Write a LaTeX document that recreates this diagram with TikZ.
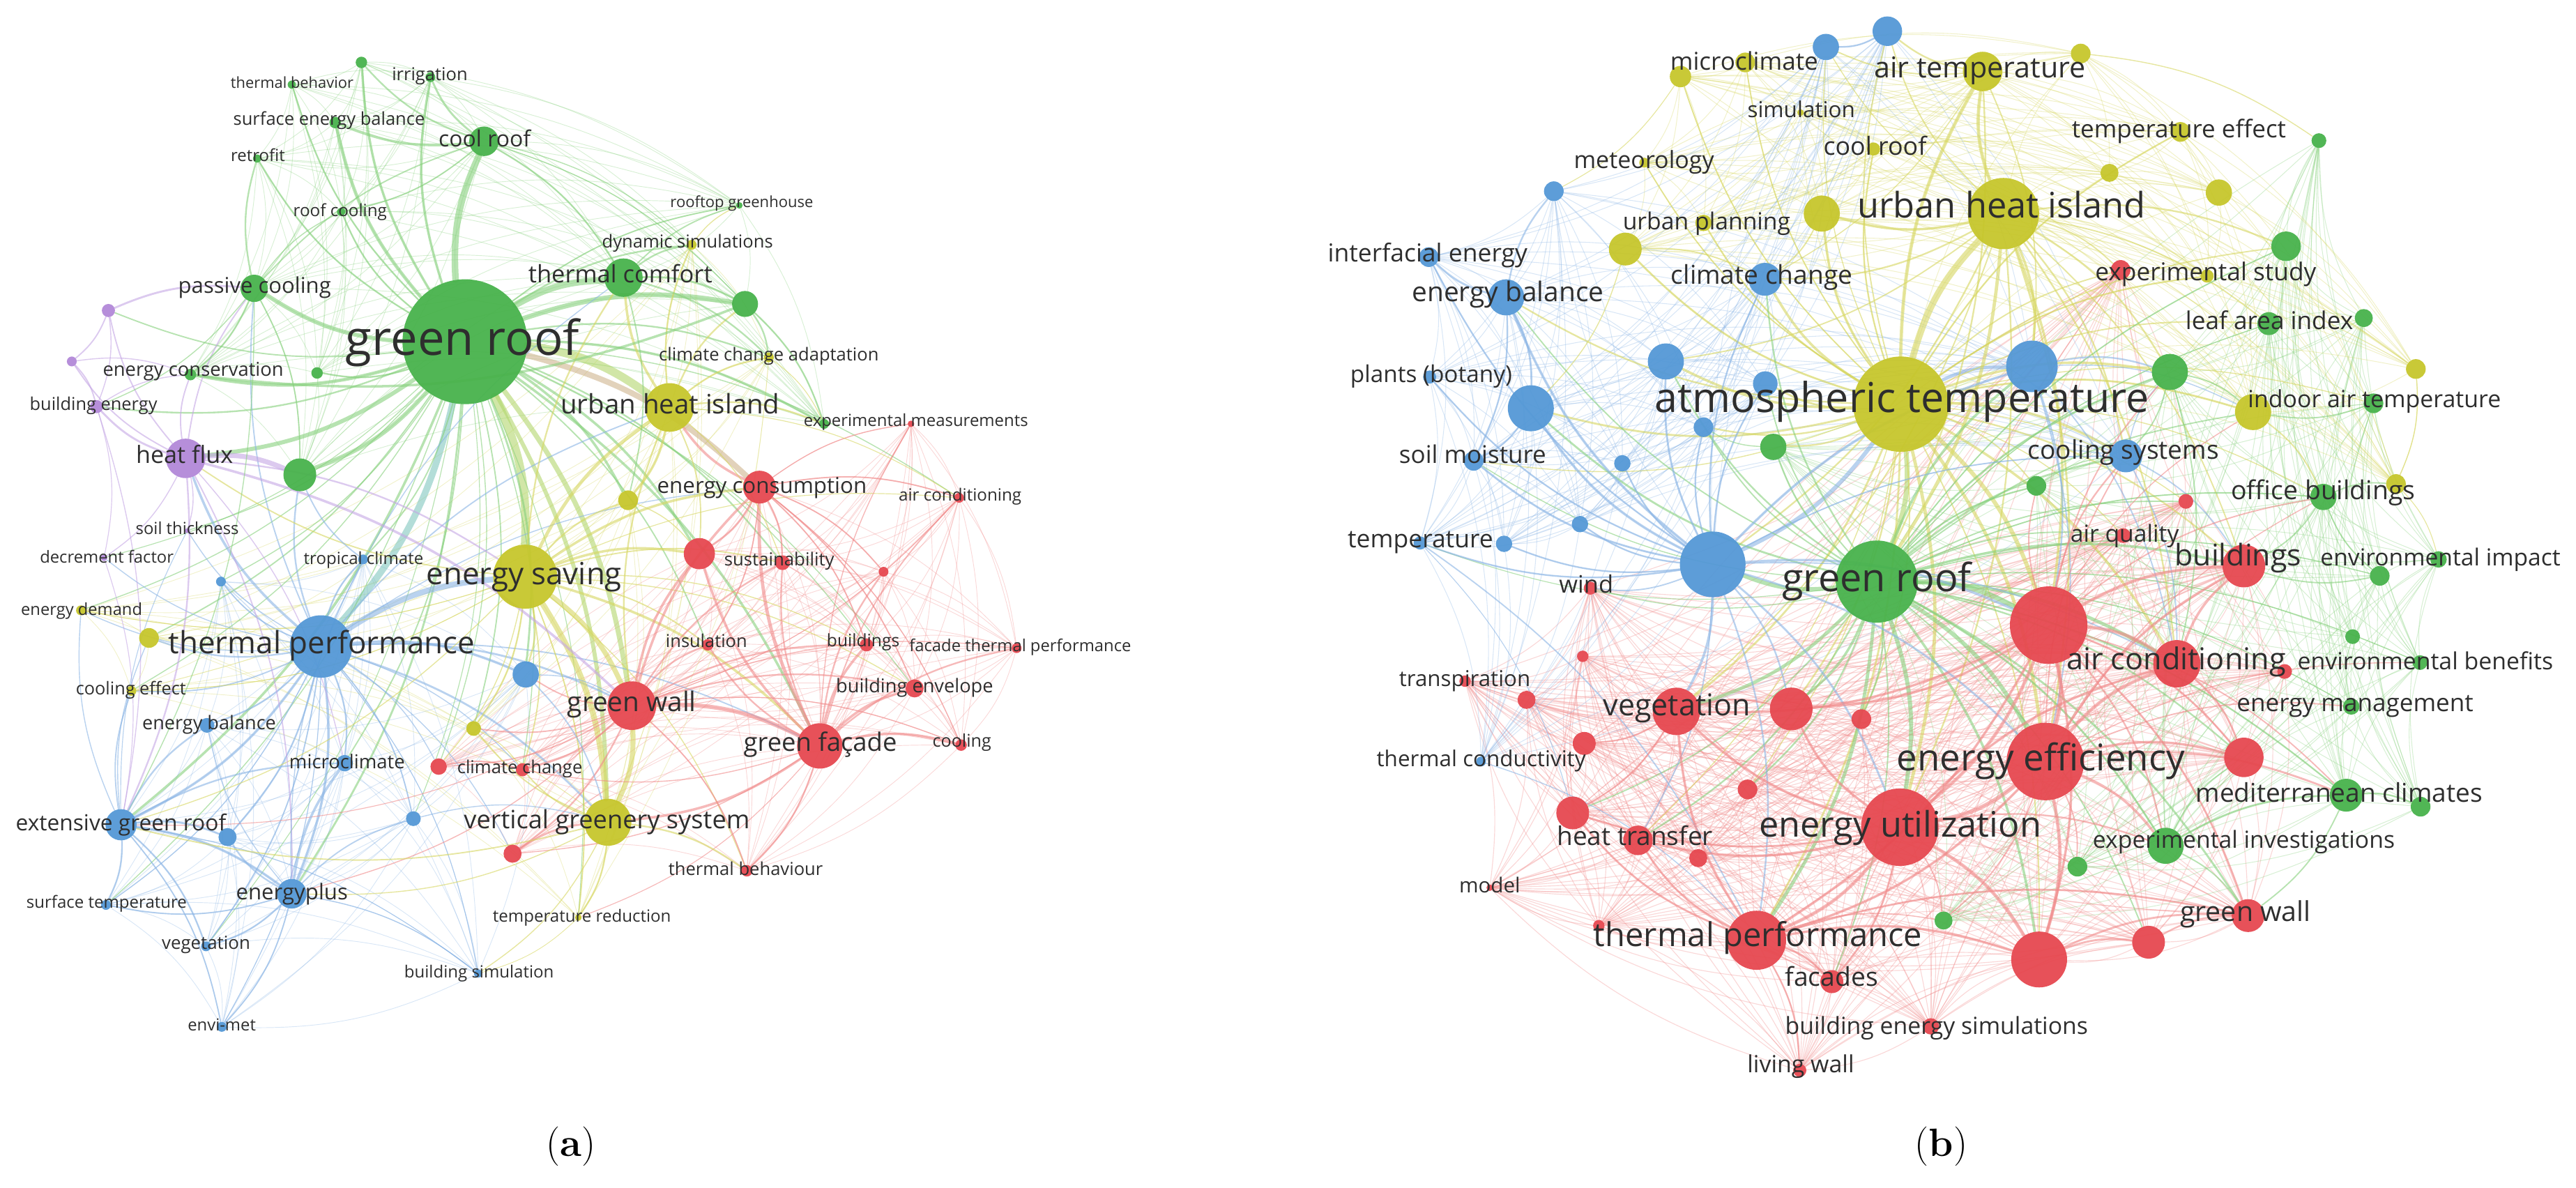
\documentclass[tikz,border=0pt]{standalone}
\usepackage{fontspec}
\usepackage{graphicx}
\newfontfamily\osans{Open Sans}
\pgfdeclarelayer{edges}
\pgfdeclarelayer{labels}
\pgfsetlayers{edges,main,labels}
\definecolor{cG}{RGB}{72,178,76}
\definecolor{cB}{RGB}{84,152,214}
\definecolor{cY}{RGB}{198,198,44}
\definecolor{cR}{RGB}{230,72,80}
\definecolor{cP}{RGB}{178,136,216}
\definecolor{eG}{RGB}{135,208,125}
\definecolor{eB}{RGB}{138,180,228}
\definecolor{eY}{RGB}{214,214,96}
\definecolor{eR}{RGB}{240,138,138}
\definecolor{eP}{RGB}{196,166,228}
\definecolor{eGY}{RGB}{178,214,108}
\definecolor{eGB}{RGB}{128,198,190}
\definecolor{eBr}{RGB}{206,180,142}
\tikzset{
  vnode/.style={circle,inner sep=0pt,draw=none,fill opacity=0.95},
  vlab/.style={inner sep=0pt,text=black!82,font=\osans},
  edge/.style={draw opacity=0.6,line cap=round},
  meshline/.style={draw opacity=0.33,line cap=round},
}
\newcommand\vn[5]{\node[vnode,fill=#5,minimum size={2*#4pt}] (#1) at (#2,#3) {};}
\newcommand\vl[5]{\node[vlab] (#1) at (#2,#3) {\resizebox{#4pt}{!}{\vphantom{bg}#5}};}
\newcommand\vmesh[4]{%
  \foreach \u [count=\i] in {#2} {\foreach \v [count=\j] in {#2} {%
    \ifnum\j>\i \draw[meshline,draw=#3,line width=#4] (#1-\u) to[bend left=14] (#1-\v);\fi}}}
\begin{document}
\begin{tikzpicture}[x=1pt,y=-1pt]
\useasboundingbox (0,0) rectangle (1568,723);
% ---------------- panel (a) nodes
\vn{a-gr}{283}{208}{38}{cG}
\vn{a-n1}{220}{38}{3.5}{cG}
\vn{a-thb}{177.6}{51.5}{2.5}{cG}
\vn{a-irr}{262}{47}{3}{cG}
\vn{a-seb}{204}{74.6}{3.5}{cG}
\vn{a-cr}{294.6}{86}{9}{cG}
\vn{a-ret}{156.5}{96.5}{2.5}{cG}
\vn{a-rc}{207.6}{129}{2.5}{cG}
\vn{a-pc}{154.7}{175.5}{8.3}{cG}
\vn{a-p1}{66}{189}{4}{cP}
\vn{a-p2}{43.7}{220}{3}{cP}
\vn{a-ec}{115.9}{228}{3.5}{cG}
\vn{a-g2}{193}{227}{3.5}{cG}
\vn{a-be}{58.8}{247.5}{4}{cP}
\vn{a-hf}{113}{279}{12}{cP}
\vn{a-g3}{182.5}{289}{10}{cG}
\vn{a-st}{114}{323}{1.5}{cP}
\vn{a-rg}{450}{125}{2}{cG}
\vn{a-ds}{421}{149}{3}{cY}
\vn{a-tc}{379.5}{169}{11.7}{cG}
\vn{a-g4}{453.5}{185}{7.9}{cG}
\vn{a-cca}{468}{217.5}{3}{cY}
\vn{a-uhi}{407.5}{248}{14.8}{cY}
\vn{a-em}{501.6}{258}{3}{cG}
\vn{a-emr}{554.5}{258}{2}{cR}
\vn{a-ecn}{462.3}{296.5}{10}{cR}
\vn{a-y1}{382.3}{304.5}{6}{cY}
\vn{a-ac}{583.8}{303}{3}{cR}
\vn{a-df}{63.3}{339.5}{2}{cP}
\vn{a-tcl}{221}{340.5}{3}{cB}
\vn{a-b1}{134.5}{354}{3}{cB}
\vn{a-es}{319.7}{351}{19.5}{cY}
\vn{a-ed}{49.3}{371.5}{3}{cY}
\vn{a-y2}{90.7}{388.3}{6}{cY}
\vn{a-tp}{195.4}{393.5}{19}{cB}
\vn{a-b2}{320}{410.5}{8}{cB}
\vn{a-ce}{80}{420.5}{3}{cY}
\vn{a-eb}{126}{441.5}{4.5}{cB}
\vn{a-y3}{288.3}{443.4}{4.5}{cY}
\vn{a-mc}{209.8}{464.5}{5}{cB}
\vn{a-r1}{267}{466.6}{5}{cR}
\vn{a-cc}{318}{468.5}{4}{cR}
\vn{a-b3}{251.6}{498.3}{4.5}{cB}
\vn{a-vgs}{370}{500.5}{14.3}{cY}
\vn{a-egr}{73.7}{502}{9.5}{cB}
\vn{a-b4}{138.5}{509.5}{5.5}{cB}
\vn{a-r2}{312}{519.6}{5.5}{cR}
\vn{a-ep}{177.6}{544}{9}{cB}
\vn{a-sft}{64.5}{550.8}{3}{cB}
\vn{a-trd}{352}{558.5}{2}{cY}
\vn{a-veg}{125.4}{576}{3}{cB}
\vn{a-bs}{291}{592.5}{2.5}{cB}
\vn{a-env}{135}{625}{3}{cB}
\vn{a-r3}{425.7}{337}{9.5}{cR}
\vn{a-sus}{476.3}{342.5}{4.5}{cR}
\vn{a-r4}{537.8}{348}{3}{cR}
\vn{a-ins}{430.8}{392.5}{3.5}{cR}
\vn{a-bld}{527.4}{392.5}{4}{cR}
\vn{a-ftp}{618.8}{394.5}{3}{cR}
\vn{a-ben}{556.7}{419}{5.5}{cR}
\vn{a-gw}{384.6}{429.5}{14.8}{cR}
\vn{a-gf}{499}{454}{13.8}{cR}
\vn{a-cool}{585}{453.5}{3.5}{cR}
\vn{a-tbh}{454.6}{530}{3.5}{cR}
% ---------------- panel (b) nodes
\vn{b-t1}{1148.8}{19}{9}{cB}
\vn{b-t2}{1111.4}{28.6}{8}{cB}
\vn{b-mc}{1062.3}{38}{6}{cY}
\vn{b-y1}{1022.9}{46.6}{6.5}{cY}
\vn{b-at}{1206.8}{43.5}{12}{cY}
\vn{b-sim}{1096}{68.5}{2}{cY}
\vn{b-cr}{1140.4}{90.7}{4}{cY}
\vn{b-met}{1000.8}{99}{3}{cY}
\vn{b-b8}{945.8}{116.4}{6}{cB}
\vn{b-up}{1036.9}{135.7}{5}{cY}
\vn{b-y10}{1108.9}{130}{11}{cY}
\vn{b-uhi}{1219.5}{130}{21.7}{cY}
\vn{b-ie}{869.7}{156.5}{6}{cB}
\vn{b-y13}{989.3}{151.6}{10}{cY}
\vn{b-eb}{916.8}{181}{11}{cB}
\vn{b-cc}{1074.3}{170}{10}{cB}
\vn{b-b16}{1014}{220}{11}{cB}
\vn{b-pb}{870.2}{229.5}{4}{cB}
\vn{b-b18}{931.8}{248.5}{14}{cB}
\vn{b-b19}{1074.5}{233.5}{7.5}{cB}
\vn{b-atm}{1157}{246}{29}{cY}
\vn{b-b21}{1036.9}{260}{6}{cB}
\vn{b-g22}{1079.4}{272}{8}{cG}
\vn{b-sm}{897}{280.5}{6}{cB}
\vn{b-b24}{987.5}{282}{5}{cB}
\vn{b-b25}{961.7}{319}{5}{cB}
\vn{b-tmp}{864.4}{330.5}{4}{cB}
\vn{b-b26}{915.5}{331}{5}{cB}
\vn{b-y27}{1266.5}{32.6}{6}{cY}
\vn{b-te}{1327.2}{80.3}{6}{cY}
\vn{b-g29}{1411.5}{85.6}{4.5}{cG}
\vn{b-y30}{1284}{105.2}{5.5}{cY}
\vn{b-y31}{1350.6}{117.2}{8}{cY}
\vn{b-g32}{1391.5}{149.9}{9}{cG}
\vn{b-r33}{1290.8}{164.3}{6}{cR}
\vn{b-es}{1343.4}{168}{4}{cY}
\vn{b-lai}{1381}{197}{7}{cG}
\vn{b-g34}{1438.8}{193.6}{5.5}{cG}
\vn{b-b35}{1236.8}{223}{15.7}{cB}
\vn{b-g36}{1320.8}{226.4}{11}{cG}
\vn{b-y37}{1470.5}{224.6}{6}{cY}
\vn{b-y38}{1371.4}{250.8}{11}{cY}
\vn{b-iat}{1444.7}{245.5}{6}{cG}
\vn{b-cs}{1294}{277.5}{10}{cB}
\vn{b-g40}{1239.5}{295.7}{6}{cG}
\vn{b-r41}{1330.5}{305.2}{4.5}{cR}
\vn{b-ob}{1414.2}{302.5}{8}{cG}
\vn{b-y42}{1458.4}{294.6}{6}{cY}
\vn{b-aq}{1292.4}{326}{4.5}{cR}
\vn{b-bb}{1042.5}{343.5}{20}{cB}
\vn{b-gr}{1142.4}{354}{25}{cG}
\vn{b-wind}{968}{358}{4}{cR}
\vn{b-r47}{963.4}{399.5}{3.5}{cR}
\vn{b-tr}{891.8}{414.6}{3.5}{cR}
\vn{b-r49}{929.2}{426}{5.5}{cR}
\vn{b-veg}{1020.4}{433}{14.4}{cR}
\vn{b-r51}{1090.3}{431.5}{13}{cR}
\vn{b-r52}{1133}{437.7}{6}{cR}
\vn{b-r53}{964.3}{452.5}{7}{cR}
\vn{b-tcd}{901.5}{463.5}{3}{cB}
\vn{b-r55}{1063.7}{480.5}{6}{cR}
\vn{b-r56}{957.3}{494.8}{10}{cR}
\vn{b-ht}{997}{511.5}{9}{cR}
\vn{b-r58}{1033.7}{522.3}{5.5}{cR}
\vn{b-mod}{906.8}{540.3}{2}{cR}
\vn{b-r60}{973.2}{563.4}{3.5}{cR}
\vn{b-tp}{1069.2}{572.3}{18}{cR}
\vn{b-fac}{1115}{597.5}{7}{cR}
\vn{b-bes}{1175.3}{624.7}{5}{cR}
\vn{b-lw}{1095.5}{651.5}{4}{cR}
\vn{b-bld}{1365.8}{344.5}{13}{cR}
\vn{b-eim}{1448.5}{350.5}{6}{cG}
\vn{b-g66}{1484.3}{340.5}{5}{cG}
\vn{b-rb}{1247}{380.5}{23.6}{cR}
\vn{b-g68}{1432}{387.5}{4.5}{cG}
\vn{b-ac}{1325}{404}{14.4}{cR}
\vn{b-r70}{1390.6}{408.7}{4.5}{cR}
\vn{b-ebn}{1473}{403.3}{4.5}{cG}
\vn{b-em}{1431.2}{430}{5}{cG}
\vn{b-ee}{1245}{463.5}{23.6}{cR}
\vn{b-r74}{1365.8}{461}{12}{cR}
\vn{b-eu}{1156.4}{503.5}{23.6}{cR}
\vn{b-mcl}{1428.1}{484}{10}{cG}
\vn{b-g76}{1473.4}{491}{6}{cG}
\vn{b-ei}{1318.2}{514.8}{11}{cG}
\vn{b-g78}{1264.5}{527.5}{6}{cG}
\vn{b-g79}{1183}{560.3}{5.5}{cG}
\vn{b-gw}{1368.4}{557.3}{10}{cR}
\vn{b-r81}{1307.8}{573.5}{10}{cR}
\vn{b-r82}{1241.2}{584}{17}{cR}
% ---------------- edges
\begin{pgfonlayer}{edges}
% within-cluster webs
\vmesh{a}{gr,n1,thb,irr,seb,cr,ret,rc,pc,ec,g2,g3,rg,tc,g4,em}{eG}{0.4pt}
\vmesh{a}{tp,tcl,b1,b2,eb,mc,b3,egr,b4,ep,sft,veg,bs,env}{eB}{0.4pt}
\vmesh{a}{ecn,emr,ac,r1,cc,r2,r3,sus,r4,ins,bld,ftp,ben,gw,gf,cool,tbh}{eR}{0.4pt}
\vmesh{a}{uhi,ds,cca,y1,es,ed,y2,ce,y3,vgs,trd}{eY}{0.4pt}
\vmesh{b}{rb,ee,eu,tp,veg,r51,r52,r53,r55,r56,ht,r58,r60,fac,bes,lw,bld,ac,r70,r74,gw,r81,r82,r33,r41,aq,wind,r47,tr,r49,mod}{eR}{0.5pt}
\vmesh{b}{gr,ei,mcl,g76,em,ebn,g68,eim,g66,ob,iat,lai,g34,g32,g29,g36,g40,g22,g78,g79}{eG}{0.45pt}
\vmesh{b}{atm,uhi,at,mc,y1,sim,cr,met,up,y10,y13,y27,te,y30,y31,es,y37,y38,y42}{eY}{0.45pt}
\vmesh{b}{bb,t1,t2,b8,ie,eb,cc,b16,pb,b18,b19,b21,sm,b24,b25,tmp,b26,b35,cs,tcd}{eB}{0.45pt}
\foreach \u/\v/\w/\c in {
gr/cr/4/eG, gr/tc/4/eG, gr/uhi/5/eGY, gr/es/5/eGY, gr/tp/4/eGB, gr/pc/2.5/eG, gr/g3/2.5/eG, gr/hf/2.5/eG, gr/gw/3/eGY, gr/g4/3/eG, gr/ecn/3.5/eBr, gr/seb/2/eG, gr/irr/1.5/eG, gr/ec/2/eG, gr/vgs/2.5/eGY, gr/egr/1.5/eG, gr/ep/1.2/eG, gr/rc/1/eG, gr/ret/1/eG, gr/thb/1/eG, gr/n1/1.5/eG, gr/ds/1/eG, gr/rg/0.8/eG, gr/cca/1/eG, gr/em/1.5/eG, gr/r3/1.5/eG, gr/gf/1.5/eG, gr/sus/1/eG, gr/y1/1.5/eG, gr/g2/1/eG, gr/b2/1.2/eG, gr/mc/0.8/eG, gr/tcl/0.8/eG, gr/ins/0.8/eG, gr/ac/0.6/eG, gr/be/1/eG, gr/p1/0.8/eG, gr/st/0.6/eG, gr/ce/0.6/eG, gr/ed/0.6/eG, gr/y2/0.8/eG, gr/y3/0.8/eG, gr/b1/0.6/eG, gr/r1/0.6/eG, gr/cc/0.6/eG, gr/bld/0.6/eG, gr/ben/0.6/eG, gr/df/0.5/eG, gr/veg/0.5/eG, gr/sft/0.6/eG, gr/trd/0.5/eG, gr/b3/0.5/eG,
tp/es/3.5/eB, tp/egr/1.5/eB, tp/ep/1.5/eB, tp/mc/1/eB, tp/hf/1.5/eB, tp/b2/1.5/eB, tp/eb/1/eB, tp/b1/0.8/eB, tp/tcl/1/eB, tp/veg/0.8/eB, tp/sft/0.6/eB, tp/r1/0.6/eB, tp/ed/0.6/eB, tp/ce/0.8/eB, tp/y2/1/eB, tp/gw/1.2/eB, tp/vgs/1.2/eB, tp/gf/0.8/eB, tp/b3/0.8/eB, tp/b4/1/eB, tp/env/0.5/eB, tp/bs/0.5/eB, tp/df/0.6/eB, tp/st/0.6/eB, tp/pc/0.8/eB, tp/g3/1/eB, tp/ecn/0.6/eB, tp/uhi/0.8/eB, tp/r2/0.6/eB, tp/cc/0.6/eB, tp/tc/0.6/eB,
es/gw/3/eY, es/vgs/3.5/eY, es/uhi/2/eY, es/ecn/1.5/eY, es/r3/1.5/eY, es/gf/1.5/eY, es/y1/1/eY, es/b2/1/eY, es/y3/1/eY, es/sus/0.8/eY, es/ins/0.8/eY, es/cc/0.8/eY, es/r1/0.6/eY, es/tc/1/eY, es/hf/0.8/eY, es/egr/0.6/eY, es/bld/0.6/eY, es/ben/0.6/eY, es/tbh/0.6/eY, es/trd/0.8/eY, es/ed/0.5/eY, es/ce/0.5/eY, es/ac/0.5/eY,
gw/gf/2.5/eR, gw/vgs/3/eY, gw/r3/1.5/eR, gw/ins/1/eR, gw/sus/1/eR, gw/ecn/1.5/eR, gw/ben/1/eR, gw/bld/1/eR, gw/cc/1/eR, gw/r2/1/eR, gw/tbh/0.8/eR, gw/y3/0.8/eR, gw/b2/0.8/eR, gw/r1/0.8/eR, gw/cool/0.6/eR, gw/ftp/0.6/eR, gw/uhi/1/eY, gw/ep/0.6/eR, gw/egr/0.5/eR,
gf/ecn/2/eR, gf/bld/1.5/eR, gf/ben/1.5/eR, gf/cool/1.5/eR, gf/ftp/1/eR, gf/tbh/1/eR, gf/sus/1/eR, gf/ins/1/eR, gf/r4/1/eR, gf/r3/1.5/eR, gf/ac/0.8/eR, gf/vgs/1.5/eR, gf/r2/0.6/eR, gf/cc/0.6/eR, gf/trd/0.5/eR, gf/emr/0.6/eR,
ecn/sus/1/eR, ecn/ac/0.8/eR, ecn/r3/1.2/eR, ecn/bld/0.8/eR, ecn/r4/0.8/eR, ecn/ins/0.8/eR, ecn/uhi/1.5/eR, ecn/ben/0.8/eR, ecn/emr/0.6/eR, ecn/cool/0.6/eR,
r2/vgs/1.2/eR, r1/cc/0.8/eR, ac/gw/0.5/eR,
hf/be/1.2/eP, hf/p1/0.8/eP, hf/p2/0.8/eP, hf/g3/3/eP, hf/df/0.6/eP, hf/egr/1/eP, hf/gw/1.5/eP, hf/st/0.6/eP, hf/ec/0.8/eP, hf/pc/0.8/eP, hf/ep/0.8/eP, hf/mc/0.6/eP, hf/es/1/eP,
p1/pc/1.2/eP, p1/p2/0.8/eP, p2/be/0.8/eP, p1/be/0.6/eP, p2/ec/0.6/eP, be/ec/0.6/eP, be/egr/0.6/eP, df/egr/0.5/eP, be/df/0.5/eP,
pc/ec/1/eG, pc/ret/1/eG, pc/g3/0.8/eG, pc/egr/0.6/eG, pc/cr/0.8/eG, pc/rc/0.6/eG, pc/be/0.6/eG,
egr/sft/1/eB, egr/veg/1/eB, egr/env/0.8/eB, egr/ep/1.5/eB, egr/b4/1.2/eB, egr/eb/1/eB, egr/ce/0.8/eB, egr/mc/1/eB, egr/ed/0.6/eB, egr/y2/0.6/eB, egr/st/0.5/eB, egr/bs/0.5/eB,
ep/b4/1/eB, ep/veg/1/eB, ep/mc/1.5/eB, ep/env/0.8/eB, ep/bs/0.6/eB, ep/sft/0.8/eB, ep/b3/0.8/eB, ep/eb/0.6/eB, ep/tcl/0.6/eB,
b2/vgs/0.8/eB, b2/gw/0.6/eB, b3/vgs/0.6/eB, tcl/g3/0.8/eB,
vgs/trd/1/eY, vgs/tbh/1/eY, vgs/bs/0.6/eY, vgs/cc/0.8/eY, vgs/y3/0.8/eY, vgs/egr/0.8/eY, vgs/ep/0.6/eY,
uhi/tc/1.5/eY, uhi/cca/1/eY, uhi/em/1/eY, uhi/y1/1.5/eY, uhi/ds/1/eY, uhi/g4/1/eY, uhi/r3/0.8/eY, uhi/sus/0.6/eY, uhi/ac/0.5/eY,
cr/irr/1.2/eG, cr/seb/1.5/eG, cr/tc/1/eG, cr/n1/1/eG, cr/rc/0.8/eG, cr/ds/0.6/eG, cr/g4/0.6/eG,
tc/g4/1.2/eG, tc/ds/1/eG, tc/rg/0.8/eG, tc/cca/1/eG, tc/y1/0.8/eG,
g4/em/1/eG, g4/cca/1/eG, g4/ec/1.5/eG,
ds/rg/0.6/eY, cca/em/0.5/eY, y1/r3/0.6/eY, y3/cc/0.5/eY, trd/bs/0.4/eY}
{\draw[edge,draw=\c,line width=\w pt] (a-\u) to[bend left=14] (a-\v);}
\foreach \u/\v/\w/\c in {
atm/uhi/4/eY, atm/at/2/eY, atm/gr/3/eGY, atm/bb/2.5/eB, atm/b35/2/eB, atm/cs/1.5/eY, atm/g36/1.5/eY, atm/y38/1.2/eY, atm/cc/1.5/eY, atm/b16/1.5/eY, atm/b19/1.2/eY, atm/b21/1/eY, atm/g22/1/eY, atm/ee/2/eY, atm/eu/2/eY, atm/rb/2.5/eY, atm/ac/1.5/eY, atm/bld/1/eY, atm/veg/1.2/eY, atm/y10/1.5/eY, atm/up/1/eY, atm/y13/1.2/eY, atm/mc/0.8/eY, atm/y1/0.8/eY, atm/cr/1/eY, atm/met/0.8/eY, atm/te/1/eY, atm/es/1/eY, atm/r33/0.8/eY, atm/lai/0.8/eY, atm/g32/0.8/eY, atm/tp/1.2/eY, atm/r51/1/eY, atm/eb/1/eY, atm/b18/1.2/eY, atm/sm/0.6/eY, atm/g40/0.8/eY, atm/ob/0.6/eY, atm/t1/0.8/eY, atm/t2/0.6/eY, atm/iat/0.6/eY, atm/r82/0.8/eY, atm/ht/0.6/eY, atm/r55/0.6/eY, atm/r52/0.8/eY, atm/aq/0.6/eY, atm/r41/0.6/eY,
uhi/at/2/eY, uhi/y10/1.5/eY, uhi/b35/1.5/eY, uhi/cs/1/eY, uhi/gr/2/eY, uhi/rb/1.5/eY, uhi/ee/1.2/eY, uhi/eu/1/eY, uhi/cc/1/eY, uhi/r33/0.8/eY, uhi/lai/0.8/eY, uhi/t1/0.8/eY, uhi/t2/0.6/eY, uhi/ac/1/eY, uhi/bld/0.8/eY, uhi/veg/0.8/eY, uhi/bb/1/eY, uhi/b16/0.8/eY, uhi/g32/1/eY, uhi/g36/1/eY,
at/t1/1/eY, at/t2/0.8/eY, at/b35/0.8/eY, at/gr/1/eY, at/cc/0.6/eY,
gr/bb/2.5/eG, gr/rb/3/eG, gr/ee/2.5/eG, gr/eu/2.5/eG, gr/ac/2/eG, gr/tp/2/eG, gr/veg/2/eG, gr/r51/1.5/eG, gr/b35/1.5/eG, gr/cs/1.2/eG, gr/bld/1.5/eG, gr/g36/1.2/eG, gr/ei/1.2/eG, gr/mcl/1/eG, gr/gw/1.2/eG, gr/r82/1.5/eG, gr/r74/1/eG, gr/b18/1.2/eG, gr/b16/1/eG, gr/cc/1/eG, gr/eb/0.8/eG, gr/ht/1/eG, gr/r56/0.8/eG, gr/r52/1/eG, gr/r55/1/eG, gr/g22/1/eG, gr/g40/1/eG, gr/r41/0.8/eG, gr/aq/0.8/eG, gr/y38/0.8/eG, gr/ob/0.8/eG, gr/em/0.6/eG, gr/ebn/0.6/eG, gr/eim/0.6/eG, gr/lai/0.6/eG, gr/g32/0.8/eG, gr/fac/0.8/eG, gr/r81/0.8/eG, gr/wind/0.6/eG, gr/b21/0.8/eG, gr/b19/0.8/eG, gr/sm/0.6/eG, gr/tmp/0.5/eG,
bb/eb/1.5/eB, bb/b18/1.5/eB, bb/ie/1/eB, bb/pb/1/eB, bb/sm/1.2/eB, bb/tmp/1/eB, bb/b25/1/eB, bb/b24/1/eB, bb/b16/1.2/eB, bb/cc/1/eB, bb/b21/1/eB, bb/b26/1/eB, bb/b19/1/eB, bb/rb/1.5/eB, bb/ee/1.2/eB, bb/eu/1.2/eB, bb/veg/1.5/eB, bb/tp/1/eB, bb/b35/1.5/eB, bb/cs/0.8/eB, bb/wind/0.8/eB, bb/r51/1/eB, bb/ht/0.8/eB, bb/ac/0.8/eB,
eb/ie/1.2/eB, eb/b8/1/eB, eb/b18/1.2/eB, eb/sm/1/eB, b18/sm/1/eB, tmp/tp/0.8/eB, tcd/tp/0.6/eB, t1/t2/1/eB, b35/g36/1/eB, b35/rb/1/eB, b35/ee/0.8/eB, b35/ac/0.8/eB, b35/y38/0.6/eB, cs/ac/0.8/eB, cs/bld/0.8/eB, cs/g36/0.6/eB, tmp/r56/0.5/eB,
rb/ee/2.5/eR, rb/eu/2/eR, rb/ac/2/eR, rb/bld/1.8/eR, rb/tp/1.5/eR, rb/veg/1.5/eR, rb/r51/1.5/eR, rb/r74/1.2/eR, rb/r82/1.5/eR, rb/gw/1.2/eR, rb/cs/1/eR, rb/g36/0.8/eR, rb/ei/1/eR, rb/mcl/0.8/eR, rb/ob/0.8/eR, rb/g40/0.8/eR, rb/y38/0.6/eR,
ee/eu/2.5/eR, ee/ac/2/eR, ee/bld/1.5/eR, ee/tp/1.5/eR, ee/r74/1.5/eR, ee/r82/2/eR, ee/ei/1.5/eR, ee/mcl/1.2/eR, ee/em/0.8/eR, ee/g78/0.8/eR, ee/g79/0.8/eR, ee/ob/0.6/eR, ee/ebn/0.6/eR, ee/cs/0.8/eR,
eu/tp/2/eR, eu/veg/1.5/eR, eu/r51/1.5/eR, eu/r82/2/eR, eu/ht/1.5/eR, eu/r56/1.2/eR, eu/fac/1.2/eR, eu/ac/1.5/eR, eu/ei/1/eR, eu/g79/0.8/eR, eu/g78/0.6/eR,
tp/veg/1.5/eR, tp/r56/1.2/eR, tp/ht/1.2/eR, tp/fac/1.2/eR, tp/lw/1/eR, tp/r82/1.5/eR, tp/gw/1.2/eR, tp/g79/0.6/eR,
veg/r51/1.2/eR, veg/r53/1/eR, veg/r56/1/eR, ac/bld/1.5/eR, ac/r74/1.2/eR, r82/r81/1.2/eR, r82/gw/1.2/eR, r81/gw/1/eR,
ei/mcl/1.2/eG, mcl/g76/1/eG, eim/ob/0.8/eG, eim/bld/0.8/eG, ob/y42/0.8/eG, ob/bld/0.8/eG, iat/y38/0.8/eG, g36/y38/0.8/eG, g36/cs/0.8/eG, g36/ac/0.8/eG, g40/cs/0.6/eG, g22/b21/0.6/eG, ei/gw/0.8/eG, ei/r74/0.8/eG, mcl/gw/0.8/eG,
y38/ob/0.8/eY, y37/y42/0.6/eY, y42/g66/0.5/eY, y27/g29/0.6/eY, y1/b8/0.5/eY, y13/b18/0.6/eY, y10/cc/0.8/eY, y13/cc/0.8/eY}
{\draw[edge,draw=\c,line width=\w pt] (b-\u) to[bend left=14] (b-\v);}
\end{pgfonlayer}
% ---------------- labels
\begin{pgfonlayer}{labels}
\vl{a-thbL}{177.8}{51.2}{74.7}{thermal behavior}
\vl{a-irrL}{261.6}{46}{46}{irrigation}
\vl{a-sebL}{200.3}{73.3}{116.6}{surface energy balance}
\vl{a-crL}{295}{85.7}{56}{cool roof}
\vl{a-retL}{157}{95.4}{33}{retrofit}
\vl{a-rcL}{207}{129}{57}{roof cooling}
\vl{a-rgL}{451.5}{124}{87}{rooftop greenhouse}
\vl{a-dsL}{418.5}{148}{104}{dynamic simulations}
\vl{a-tcL}{377.6}{168.3}{112}{thermal comfort}
\vl{a-pcL}{155}{175}{93}{passive cooling}
\vl{a-grL}{281.6}{208.4}{142.3}{green roof}
\vl{a-ccaL}{468}{216.7}{133.8}{climate change adaptation}
\vl{a-ecL}{117.6}{226}{110}{energy conservation}
\vl{a-beL}{56.9}{247}{77.6}{building energy}
\vl{a-uhiL}{408}{247.5}{133.3}{urban heat island}
\vl{a-emL}{557.5}{256.8}{136.6}{experimental measurements}
\vl{a-hfL}{112.3}{278}{59}{heat flux}
\vl{a-ecnL}{463.8}{296.9}{127.6}{energy consumption}
\vl{a-acL}{584.4}{302.4}{74.7}{air conditioning}
\vl{a-stL}{114}{322.7}{62.8}{soil thickness}
\vl{a-dfL}{65}{339.8}{81.4}{decrement factor}
\vl{a-tclL}{221.3}{341}{72.8}{tropical climate}
\vl{a-susL}{474.3}{341.6}{67}{sustainability}
\vl{a-esL}{319}{350.8}{119}{energy saving}
\vl{a-edL}{49.7}{372}{73.8}{energy demand}
\vl{a-tpL}{195.9}{392.8}{186.6}{thermal performance}
\vl{a-insL}{430}{391.4}{49.5}{insulation}
\vl{a-bldL}{525.4}{391}{44.3}{buildings}
\vl{a-ftpL}{621}{393.7}{135}{facade thermal performance}
\vl{a-ceL}{79.7}{420}{67}{cooling effect}
\vl{a-benL}{556.7}{418.6}{95.7}{building envelope}
\vl{a-ebL}{127.3}{441.2}{81.4}{energy balance}
\vl{a-gwL}{384.6}{428.7}{78.5}{green wall}
\vl{a-gfL}{499.3}{453.2}{93.3}{green façade}
\vl{a-coolL}{585.5}{451.8}{35.7}{cooling}
\vl{a-mcL}{211.3}{464.7}{70.4}{microclimate}
\vl{a-ccL}{316.4}{468}{76.2}{climate change}
\vl{a-egrL}{73.6}{502}{128}{extensive green roof}
\vl{a-vgsL}{369.4}{500.2}{174}{vertical greenery system}
\vl{a-tbhL}{453.9}{530}{94}{thermal behaviour}
\vl{a-sftL}{64.9}{550}{97.6}{surface temperature}
\vl{a-epL}{177.7}{544}{68}{energyplus}
\vl{a-trdL}{354.2}{558.7}{108.5}{temperature reduction}
\vl{a-vegL}{125.4}{575}{53.8}{vegetation}
\vl{a-bsL}{291.6}{592.4}{91}{building simulation}
\vl{a-envL}{135}{624.7}{41.4}{envi-met}
%
\vl{b-mcL}{1061.7}{38.7}{90}{microclimate}
\vl{b-atL}{1205.1}{42.9}{128.8}{air temperature}
\vl{b-simL}{1096.4}{68.2}{65.5}{simulation}
\vl{b-teL}{1326.3}{79.8}{130.4}{temperature effect}
\vl{b-crL}{1141.3}{90.4}{62.8}{cool roof}
\vl{b-metL}{1000.7}{98.7}{85.4}{meteorology}
\vl{b-uhiL}{1218.2}{127.2}{175.4}{urban heat island}
\vl{b-upL}{1038.8}{136}{102}{urban planning}
\vl{b-ieL}{869}{155.4}{121.5}{interfacial energy}
\vl{b-esL}{1342.6}{166.9}{134.6}{experimental study}
\vl{b-ccL}{1072.4}{168.7}{110.5}{climate change}
\vl{b-ebL}{917.9}{179.3}{116.8}{energy balance}
\vl{b-laiL}{1381.3}{196.8}{102}{leaf area index}
\vl{b-pbL}{871.2}{229.1}{98.5}{plants (botany)}
\vl{b-atmL}{1157.7}{244.3}{301}{atmospheric temperature}
\vl{b-iatL}{1445.3}{244.3}{154}{indoor air temperature}
\vl{b-csL}{1292.5}{275.2}{116.3}{cooling systems}
\vl{b-smL}{896.4}{278}{89.5}{soil moisture}
\vl{b-obL}{1414.1}{300.1}{112}{office buildings}
\vl{b-aqL}{1293.3}{326.4}{66}{air quality}
\vl{b-tmpL}{864.6}{329.6}{88.5}{temperature}
\vl{b-bldL}{1362.3}{339.8}{77}{buildings}
\vl{b-eimL}{1485.5}{340.7}{146.1}{environmental impact}
\vl{b-grL}{1142.3}{354}{115.2}{green roof}
\vl{b-windL}{965.5}{357.3}{33}{wind}
\vl{b-acL}{1324.6}{402.9}{133.5}{air conditioning}
\vl{b-ebnL}{1476.3}{403.8}{155.5}{environmental benefits}
\vl{b-trL}{891.6}{414.4}{80}{transpiration}
\vl{b-emL}{1433.5}{429.2}{144}{energy management}
\vl{b-vegL}{1020.6}{431}{89.5}{vegetation}
\vl{b-tcdL}{901.6}{463.3}{127.3}{thermal conductivity}
\vl{b-eeL}{1242.2}{463.3}{175.4}{energy efficiency}
\vl{b-mclL}{1423.8}{484}{174.4}{mediterranean climates}
\vl{b-euL}{1156.6}{503.9}{171.8}{energy utilization}
\vl{b-htL}{995.2}{510.3}{94.8}{heat transfer}
\vl{b-eiL}{1365.8}{512.6}{183.8}{experimental investigations}
\vl{b-modL}{906.8}{540.3}{37.2}{model}
\vl{b-gwL}{1366.8}{556.4}{79.6}{green wall}
\vl{b-tpL}{1070}{570.7}{200}{thermal performance}
\vl{b-facL}{1114.9}{596.1}{56.6}{facades}
\vl{b-besL}{1178.8}{626}{184.3}{building energy simulations}
\vl{b-lwL}{1096.1}{649.1}{65}{living wall}
% captions
\node[inner sep=0pt,font=\rmfamily\fontsize{24}{28}\selectfont] (capa) at (347.5,698) {(\textbf{a})};
\node[inner sep=0pt,font=\rmfamily\fontsize{24}{28}\selectfont] (capb) at (1181.6,698) {(\textbf{b})};
\end{pgfonlayer}
\end{tikzpicture}
\end{document}
